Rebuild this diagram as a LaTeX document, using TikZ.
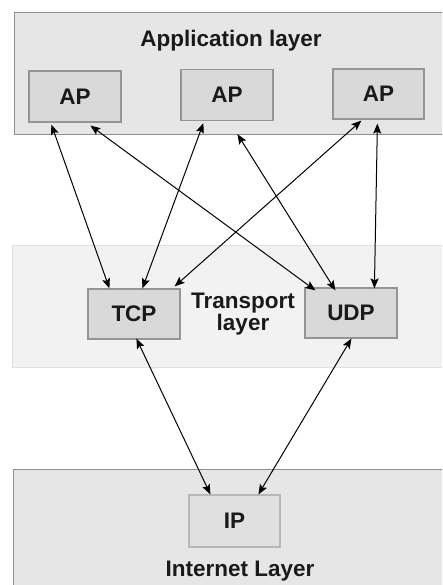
\documentclass[tikz,border=0pt]{standalone}
\usepackage{fontspec}
\setmainfont{Liberation Sans}
\usetikzlibrary{arrows.meta,calc}

\definecolor{layerfill}{HTML}{E6E6E6}
\definecolor{layerline}{HTML}{8F8F8F}
\definecolor{translayerfill}{HTML}{F2F2F2}
\definecolor{translayerline}{HTML}{E0E0E0}
\definecolor{boxfill}{HTML}{D9D9D9}
\definecolor{boxline}{HTML}{959595}
\definecolor{ipfill}{HTML}{E0E0E0}
\definecolor{ipline}{HTML}{B8B8B8}
\definecolor{ink}{HTML}{1A1A1A}

\tikzset{
  labelfont/.style={font=\fontsize{22.5}{22}\selectfont\bfseries, text=ink},
  layerbox/.style={draw=layerline, fill=layerfill, line width=1.2pt,
    rectangle, anchor=north west, inner sep=0pt},
  protobox/.style={draw=boxline, fill=boxfill, line width=1.2pt, rectangle,
    minimum width=92pt, minimum height=51pt, inner sep=0pt, labelfont},
  link/.style={line width=1pt, draw=black,
    {Stealth[length=10pt,width=8pt,inset=2pt]}-{Stealth[length=10pt,width=8pt,inset=2pt]}},
}

\begin{document}
\begin{tikzpicture}[x=1pt,y=-1pt]
  \clip (0,0) rectangle (442,585);
  \fill[white] (0,0) rectangle (442,585);

  % layer bands
  \node[layerbox, minimum width=450pt, minimum height=122pt] (applayer) at (14,12) {};
  \node[layerbox, draw=translayerline, fill=translayerfill,
        minimum width=450pt, minimum height=122pt] (translayer) at (12,245) {};
  \node[layerbox, draw=layerline, minimum width=450pt, minimum height=140pt] (netlayer) at (13,469) {};

  % layer titles
  \node[labelfont, anchor=base] (apptitle) at (231,47) {Application layer};
  \node[labelfont, align=center, anchor=north] (transtitle) at (243,289.5) {Transport\\layer};
  \node[labelfont, anchor=base] (nettitle) at (240,576) {Internet Layer};

  % protocol boxes
  \node[protobox] (ap1) at (75,96.5) {AP};
  \node[protobox] (ap2) at (227,95) {AP};
  \node[protobox, minimum width=91pt, minimum height=50pt] (ap3) at (378.5,94) {AP};
  \node[protobox, minimum height=50pt] (tcp) at (134,314) {TCP};
  \node[protobox, minimum height=50pt] (udp) at (351,313) {UDP};
  \node[protobox, draw=ipline, fill=ipfill, minimum width=91pt, minimum height=52pt] (ip) at (234.5,521) {IP};

  % application <-> transport
  \draw[link] ($(ap1.south west)+(23,2)$) -- ($(tcp.north west)+(22,0)$);
  \draw[link] ($(ap1.south west)+(62,3)$) -- ($(udp.north west)+(11,3)$);
  \draw[link] ($(ap2.south west)+(23,2)$) -- ($(tcp.north west)+(55,0)$);
  \draw[link] ($(ap2.south west)+(57,13)$) -- ($(udp.north west)+(31,3)$);
  \draw[link] ($(ap3.south west)+(29,1)$) -- ($(tcp.north east)+(-6,-2)$);
  \draw[link] ($(ap3.south west)+(45,4)$) -- ($(udp.north west)+(70,1)$);

  % transport <-> internet
  \draw[link] ($(tcp.south west)+(49,-1)$) -- ($(ip.north west)+(22,0)$);
  \draw[link] ($(udp.south west)+(47,0)$) -- ($(ip.north west)+(70,0)$);
\end{tikzpicture}
\end{document}
